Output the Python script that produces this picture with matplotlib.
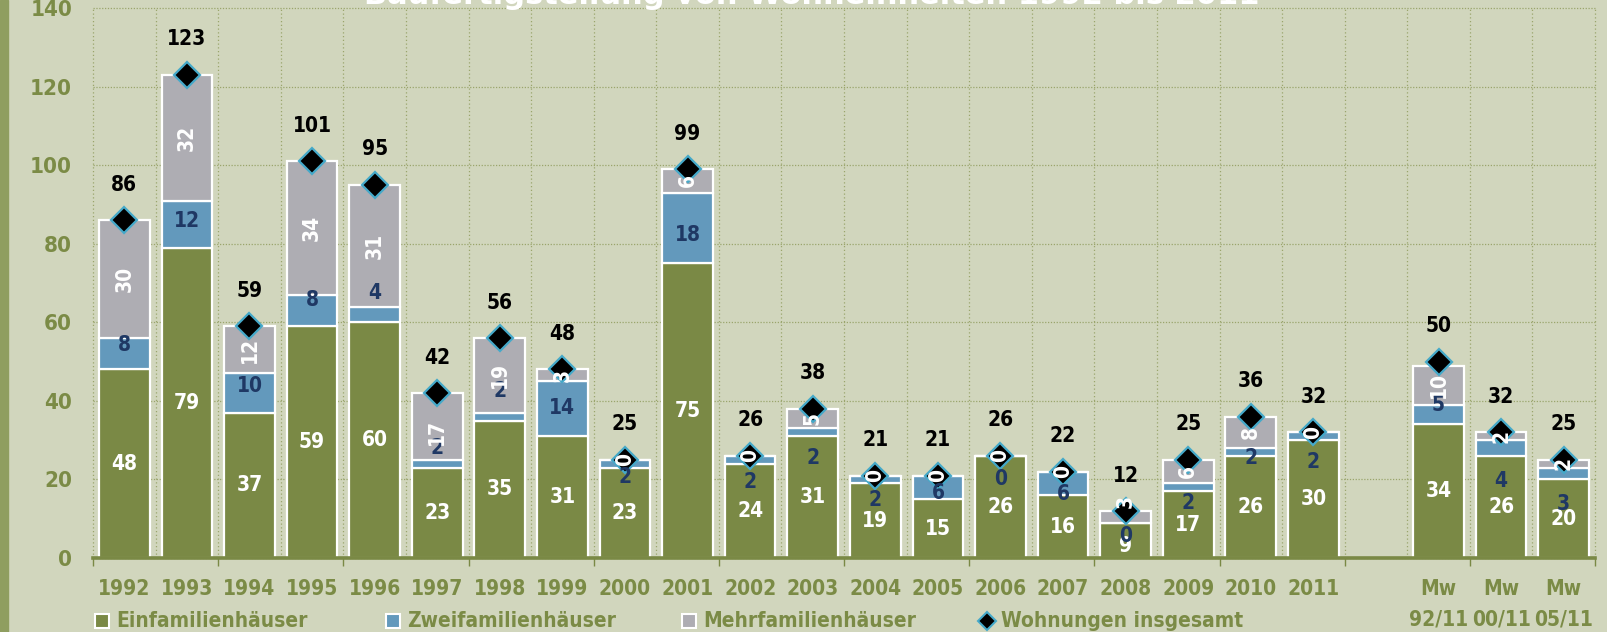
import matplotlib
matplotlib.use("Agg")
import matplotlib.pyplot as plt
from matplotlib import font_manager
from matplotlib.lines import Line2D
from matplotlib.patches import Rectangle
import numpy as np

# ---- data -------------------------------------------------------------
categories = ["1992", "1993", "1994", "1995", "1996", "1997", "1998", "1999",
              "2000", "2001", "2002", "2003", "2004", "2005", "2006", "2007",
              "2008", "2009", "2010", "2011",
              "Mw\n92/11", "Mw\n00/11", "Mw\n05/11"]
einfamilien = [48, 79, 37, 59, 60, 23, 35, 31, 23, 75, 24, 31, 19, 15, 26, 16,
               9, 17, 26, 30, 34, 26, 20]
zweifamilien = [8, 12, 10, 8, 4, 2, 2, 14, 2, 18, 2, 2, 2, 6, 0, 6,
                0, 2, 2, 2, 5, 4, 3]
mehrfamilien = [30, 32, 12, 34, 31, 17, 19, 3, 0, 6, 0, 5, 0, 0, 0, 0,
                3, 6, 8, 0, 10, 2, 2]
insgesamt = [86, 123, 59, 101, 95, 42, 56, 48, 25, 99, 26, 38, 21, 21, 26, 22,
             12, 25, 36, 32, 50, 32, 25]
series_names = ["Einfamilienhäuser", "Zweifamilienhäuser",
                "Mehrfamilienhäuser", "Wohnungen insgesamt"]
title = "Baufertigstellung von Wohneinheiten 1992 bis 2011"

# ---- label placement (y in data units) ---------------------------------
zwei_label_y = [54.2, 85.7, 43.7, 65.8, 67.4, 28.0, 42.4, 38.2, 20.7, 82.3,
                19.4, 25.4, 14.7, 16.5, 20.0, 16.3, 5.6, 14.0, 25.4, 24.4,
                39.0, 19.7, 13.7]
ein_label_override = {16: 3.0}
mehr_label_override = {16: 14.5, 5: 32.0}

# ---- style --------------------------------------------------------------
BG = "#d1d6bd"
GREEN = "#7a8945"
BLUE = "#6399bc"
GREY = "#aeadb3"
NAVY = "#1f3864"
CYAN = "#45a9c9"
OLIVE_TXT = "#7b8b46"
GRID = "#9aa56c"
STRIPE = "#8f9e60"

W, H = 1607, 632


def pick_font():
    entries = font_manager.fontManager.ttflist
    for f in entries:
        if f.name == "DejaVu Sans" and "condensed" in str(f.stretch) and f.weight in ("bold", 700):
            return dict(family="DejaVu Sans", stretch="condensed")
    names = {f.name for f in entries}
    if "Liberation Sans Narrow" in names:
        return dict(family="Liberation Sans Narrow", stretch="normal")
    return dict(family="DejaVu Sans", stretch="condensed")


FONT = pick_font()
plt.rcParams["font.family"] = [FONT["family"], "DejaVu Sans"]
plt.rcParams["font.stretch"] = FONT["stretch"]
plt.rcParams["font.weight"] = "bold"

ein = np.array(einfamilien, dtype=float)
zwei = np.array(zweifamilien, dtype=float)
mehr = np.array(mehrfamilien, dtype=float)
tot = np.array(insgesamt, dtype=float)
# 20 yearly slots, one empty slot, then the three averages
x = np.r_[np.arange(20), np.arange(21, 24)]

fig = plt.figure(figsize=(W / 100, H / 100), dpi=100)
fig.patch.set_facecolor(BG)
ax = fig.add_axes([93 / W, 1 - 558 / H, (1595 - 93) / W, (558 - 8) / H])
ax.set_facecolor(BG)
ax.set_xlim(-0.5, 23.5)
ax.set_ylim(0, 140)

# dotted grid
for yv in range(0, 141, 20):
    ax.axhline(yv, color=GRID, lw=0.9, ls=(0, (1, 1.3)), zorder=1, clip_on=False)
for xv in np.arange(-0.5, 24, 1.0):
    ax.axvline(xv, color=GRID, lw=0.9, ls=(0, (1, 2)), zorder=1, clip_on=False)

bw = 0.81
kw = dict(width=bw, edgecolor="white", linewidth=1.6, zorder=3)
ax.bar(x, ein, color=GREEN, **kw)
ax.bar(x, zwei, bottom=ein, color=BLUE, **kw)
ax.bar(x, mehr, bottom=ein + zwei, color=GREY, **kw)
ax.plot(x, tot, ls="none", marker="D", ms=13, mfc="black", mec=CYAN, mew=1.6,
        zorder=5)

lab = dict(fontsize=15, fontweight="bold", ha="center", va="center", zorder=6)
for i, xi in enumerate(x):
    y_ein = ein_label_override.get(i, ein[i] / 2)
    ax.text(xi, y_ein, f"{einfamilien[i]}", color="white", **lab)
    ax.text(xi, zwei_label_y[i], f"{zweifamilien[i]}", color=NAVY, **lab)
    y_mehr = mehr_label_override.get(i, ein[i] + zwei[i] + mehr[i] / 2)
    ax.text(xi, y_mehr, f"{mehrfamilien[i]}", color="white", rotation=90, **lab)
    ax.text(xi, tot[i] + 9, f"{insgesamt[i]}", color="black", **lab)

for s in ("left", "right", "top"):
    ax.spines[s].set_visible(False)
ax.spines["bottom"].set_color(GREEN)
ax.spines["bottom"].set_linewidth(2.6)
ax.spines["bottom"].set_zorder(4)

ax.set_yticks(range(0, 141, 20))
ax.tick_params(axis="y", length=0, pad=15, labelsize=16, labelcolor=OLIVE_TXT)
ax.set_xticks(x)
ax.set_xticklabels(categories, linespacing=1.65)
ax.tick_params(axis="x", which="major", length=0, pad=15, labelsize=15,
               labelcolor=OLIVE_TXT)
ax.set_xticks(np.arange(-0.5, 24, 2.0), minor=True)
ax.tick_params(axis="x", which="minor", length=6, width=1, color=GREEN,
               direction="out")
for t in ax.get_xticklabels() + ax.get_yticklabels():
    t.set_fontweight("bold")

# legend row
leg_y = 1 - 621 / H
leg_items = [(102, GREEN, "s", "white"), (393, BLUE, "s", "white"),
             (689, GREY, "s", "white"), (987, "black", "D", CYAN)]
for (px, col, mk, ec), name in zip(leg_items, series_names):
    fig.add_artist(Line2D([px / W], [leg_y], transform=fig.transFigure,
                          marker=mk, ms=9.5 if mk == "s" else 9, mfc=col,
                          mec=ec, mew=1.5, ls="none"))
    fig.text((px + 14) / W, leg_y, name, ha="left", va="center",
             fontsize=15, fontweight="bold", color=OLIVE_TXT)

# left edge stripe
fig.add_artist(Rectangle((0, 0), 8 / W, 1, transform=fig.transFigure,
                         color=STRIPE, zorder=0))

# heading, partly above the top edge
fig.text(812 / W, 1 - 4 / H, title, ha="center", va="baseline", color="white",
         fontsize=22, fontweight="bold", family="DejaVu Sans",
         fontstretch="normal")

fig.savefig("out.png", dpi=100, facecolor=BG)
